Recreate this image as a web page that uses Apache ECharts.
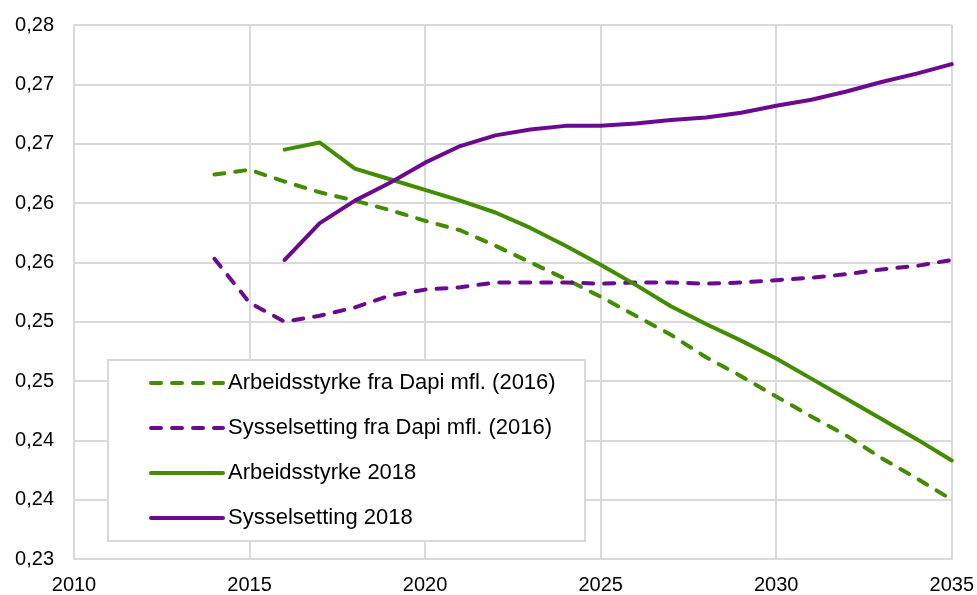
<!DOCTYPE html>
<html>
<head>
<meta charset="utf-8">
<script src="https://cdn.jsdelivr.net/npm/echarts@6/dist/echarts.min.js"></script>
<style>
html,body{margin:0;padding:0;background:#fff;}
#chart{width:977px;height:595px;}
</style>
</head>
<body>
<div id="chart"></div>
<script>
// ---- data ----
const seriesNames = [
  'Arbeidsstyrke fra Dapi mfl. (2016)',
  'Sysselsetting fra Dapi mfl. (2016)',
  'Arbeidsstyrke 2018',
  'Sysselsetting 2018'
];
const dapiYears = [2014,2015,2016,2017,2018,2019,2020,2021,2022,2023,2024,2025,2026,2027,2028,2029,2030,2031,2032,2033,2034,2035];
const years2018 = [2016,2017,2018,2019,2020,2021,2022,2023,2024,2025,2026,2027,2028,2029,2030,2031,2032,2033,2034,2035];
const arbeidsstyrkeDapi = [0.2674,0.2678,0.2668,0.2659,0.2652,0.2644,0.2635,0.2627,0.2614,0.2600,0.2586,0.2571,0.2555,0.2539,0.2520,0.2504,0.2487,0.2470,0.2454,0.2435,0.2418,0.2400];
const sysselsettingDapi = [0.2603,0.2566,0.2550,0.2555,0.2562,0.2572,0.2577,0.2579,0.2583,0.2583,0.2583,0.2582,0.2583,0.2583,0.2582,0.2583,0.2585,0.2587,0.2590,0.2594,0.2597,0.2602];
const arbeidsstyrke2018 = [0.2695,0.2701,0.2679,0.2670,0.2661,0.2652,0.2642,0.2629,0.2614,0.2598,0.2581,0.2563,0.2548,0.2534,0.2519,0.2502,0.2485,0.2468,0.2451,0.2433];
const sysselsetting2018 = [0.2602,0.2633,0.2652,0.2667,0.2684,0.2698,0.2707,0.2712,0.2715,0.2715,0.2717,0.2720,0.2722,0.2726,0.2732,0.2737,0.2744,0.2752,0.2759,0.2767];
const xTickLabels = ['2010','2015','2020','2025','2030','2035'];
const yTickLabels = ['0,23','0,24','0,24','0,25','0,25','0,26','0,26','0,27','0,27','0,28'];

// ---- chart ----
const GREEN = '#418c00';
const PURPLE = '#6b0a8f';
const GRIDC = '#d9d9d9';
const FONT = '"Liberation Sans", Arial, sans-serif';
const X_MIN = 2010, X_MAX = 2035, X_INT = 5;
const Y_MIN = 0.235, Y_MAX = 0.28, Y_INT = 0.005;

function pairs(xs, ys){ return xs.map((x,i)=>[x, ys[i]]); }

function lineSeries(name, xs, ys, color, dashed){
  return {
    name: name,
    type: 'line',
    data: pairs(xs, ys),
    symbol: 'none',
    showSymbol: false,
    smooth: false,
    z: 3,
    lineStyle: {
      color: color,
      width: 4,
      type: dashed ? [10, 11] : 'solid',
      cap: 'round',
      join: 'round'
    },
    itemStyle: { color: color }
  };
}

const chart = echarts.init(document.getElementById('chart'), null, {renderer: 'canvas'});
chart.setOption({
  animation: false,
  backgroundColor: '#ffffff',
  grid: { left: 74, right: 24, top: 25, bottom: 35, containLabel: false },
  xAxis: {
    type: 'value',
    min: X_MIN, max: X_MAX, interval: X_INT,
    axisLine: { show: true, lineStyle: { color: GRIDC, width: 2 } },
    axisTick: { show: false },
    splitLine: { show: true, lineStyle: { color: GRIDC, width: 2 } },
    axisLabel: {
      color: '#000', fontSize: 20, fontFamily: FONT, margin: 16,
      formatter: v => xTickLabels[Math.round((v - X_MIN) / X_INT)]
    }
  },
  yAxis: {
    type: 'value',
    min: Y_MIN, max: Y_MAX, interval: Y_INT,
    axisLine: { show: true, lineStyle: { color: GRIDC, width: 2 } },
    axisTick: { show: false },
    splitLine: { show: true, lineStyle: { color: GRIDC, width: 2 } },
    axisLabel: {
      color: '#000', fontSize: 20, fontFamily: FONT, margin: 20,
      formatter: v => yTickLabels[Math.round((v - Y_MIN) / Y_INT)]
    }
  },
  graphic: [{
    type: 'rect',
    z: 10,
    shape: { x: 108, y: 360, width: 477, height: 181 },
    style: { fill: '#ffffff', stroke: GRIDC, lineWidth: 2 }
  }],
  legend: {
    z: 20,
    orient: 'vertical',
    left: 149, top: 372,
    itemWidth: 72, itemHeight: 14, itemGap: 23,
    padding: 0,
    itemStyle: { opacity: 0 },
    lineStyle: { width: 4, cap: 'round', inactiveWidth: 4 },
    textStyle: { color: '#000', fontSize: 22, fontFamily: FONT, padding: [0,0,0,0] },
    data: seriesNames
  },
  series: [
    lineSeries(seriesNames[0], dapiYears, arbeidsstyrkeDapi, GREEN, true),
    lineSeries(seriesNames[1], dapiYears, sysselsettingDapi, PURPLE, true),
    lineSeries(seriesNames[2], years2018, arbeidsstyrke2018, GREEN, false),
    lineSeries(seriesNames[3], years2018, sysselsetting2018, PURPLE, false)
  ]
});
</script>
</body>
</html>
